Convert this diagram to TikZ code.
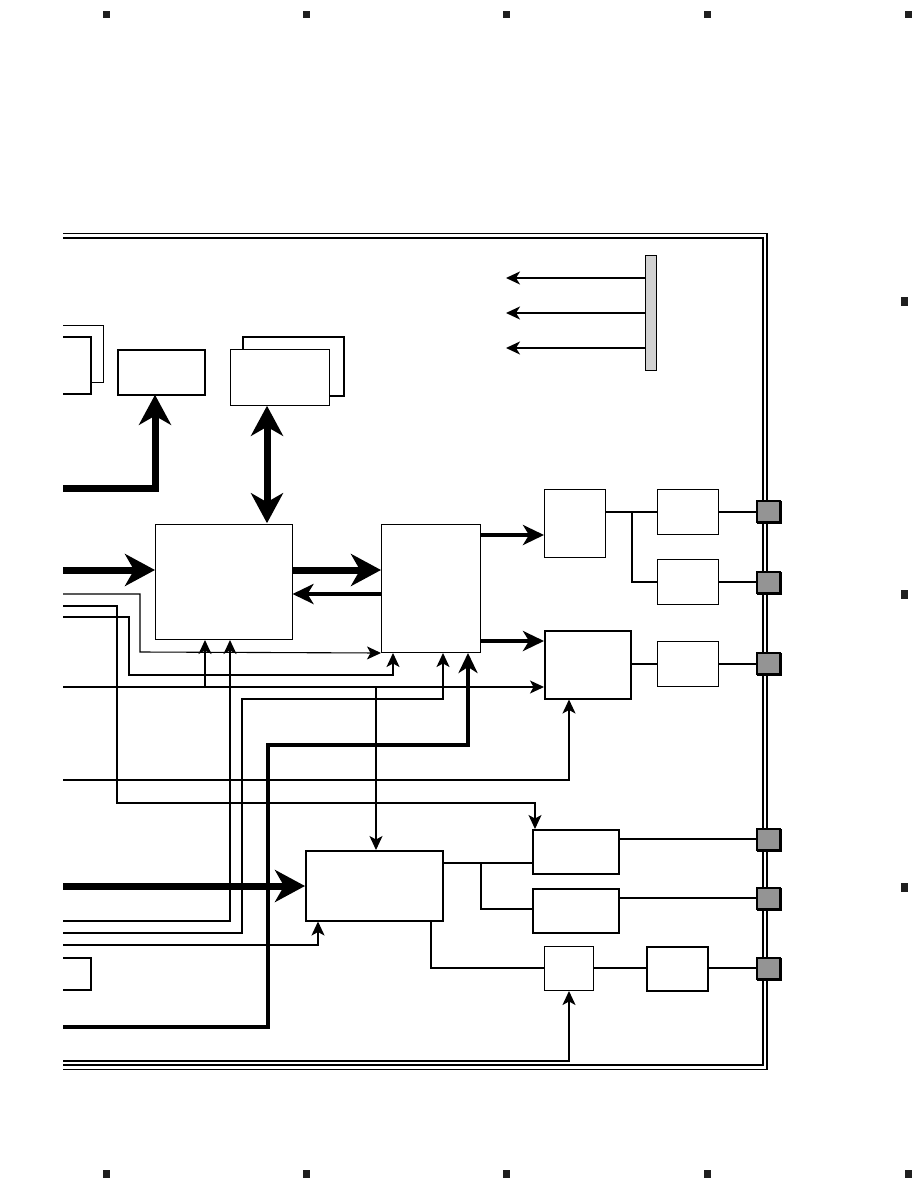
\documentclass[tikz,border=0pt]{standalone}
\usetikzlibrary{arrows.meta,calc}
\begin{document}
\begin{tikzpicture}[x=1pt,y=-1pt,
  box/.style={draw,line width=1.5pt,fill=white,inner sep=0pt,anchor=north west},
  tbox/.style={draw,line width=1pt,fill=white,inner sep=0pt,anchor=north west},
  conn/.style={draw,line width=1.6pt,fill=black!42,inner sep=0pt,anchor=north west,minimum width=23pt,minimum height=21pt},
  regmark/.style={fill=black!88,draw=none},
  bigarrow/.style={line width=7pt,-{Stealth[length=30pt,width=32pt,inset=9pt]}},
  bigline/.style={line width=7pt},
  medarrow/.style={line width=3.8pt,-{Stealth[length=21pt,width=20pt,inset=6pt]}},
  wire/.style={line width=1.8pt},
  thinwire/.style={line width=1.1pt},
  tip/.style={-{Stealth[length=14pt,width=13pt,inset=3.5pt]}},
]
\useasboundingbox (0,0) rectangle (918,1188);
\fill[white] (0,0) rectangle (918,1188);

% registration marks
\foreach \x in {103,303,503,704,905}{
  \fill[regmark] (\x,11) rectangle ++(7,7);
  \fill[regmark] (\x,1170) rectangle ++(7,8);
}
\foreach \y in {297,590,883}{
  \fill[regmark] (901,\y) rectangle ++(7,9);
}

% frame (double line, open at the left)
\draw[line width=1.5pt] (63,233.5) -- (767,233.5) -- (767,1069.5) -- (63,1069.5);
\draw[line width=1.5pt] (63,238) -- (763,238) -- (763,1065) -- (63,1065);

% top-left stacked boxes (cut at the left edge, so drawn open)
\coordinate (Aback) at (63,325);
\coordinate (A) at (63,337);
\fill[white] (Aback) rectangle (103,382);
\draw[line width=1pt] (Aback) -- (103,325) -- (103,382) -- (91,382);
\fill[white] (A) rectangle (91,394);
\draw[line width=1.5pt] (A) -- (91,337) -- (91,394) -- (63,394);
\node[box,minimum width=87pt,minimum height=45pt] (B) at (117,349) {};
\node[box,minimum width=101pt,minimum height=59pt] (Cback) at (242,336) {};
\node[tbox,minimum width=99pt,minimum height=56pt] (C) at (230,349) {};

% gray bar with three outputs
\node[draw,line width=1.3pt,fill=black!18,inner sep=0pt,anchor=north west,minimum width=11pt,minimum height=115pt] (bar) at (645,255) {};
\coordinate (o1) at (506,278);
\coordinate (o2) at (506,313);
\coordinate (o3) at (506,348);
\foreach \o in {o1,o2,o3}
  \draw[wire,-{Stealth[length=14pt,width=13pt,inset=4pt]}] (bar.west |- \o) -- (\o);

% main boxes
\node[tbox,minimum width=137pt,minimum height=115pt] (D) at (155,524) {};
\node[tbox,minimum width=99pt,minimum height=128pt] (E) at (381,524) {};
\node[tbox,minimum width=61pt,minimum height=68pt] (F1) at (544,489) {};
\node[box,minimum width=86pt,minimum height=68pt] (G) at (544,630) {};
\node[tbox,minimum width=61pt,minimum height=45pt] (K1) at (657,489) {};
\node[tbox,minimum width=61pt,minimum height=45pt] (K2) at (657,559) {};
\node[tbox,minimum width=61pt,minimum height=45pt] (K3) at (657,641) {};
\node[box,minimum width=137pt,minimum height=70pt] (H) at (305,850) {};
\node[box,minimum width=86pt,minimum height=44pt] (F) at (532,829) {};
\node[box,minimum width=86pt,minimum height=44pt] (F2) at (532,888) {};
\node[tbox,minimum width=49pt,minimum height=44pt] (J) at (544,946) {};
\node[box,minimum width=61pt,minimum height=44pt] (L) at (646,946) {};
\coordinate (M) at (63,958);
\draw[line width=1.5pt] (M) -- (91,958) -- (91,990) -- (63,990);

% connectors on the frame
\node[conn] (c1) at (757,501) {};
\node[conn] (c2) at (757,572) {};
\node[conn] (c3) at (757,653) {};
\node[conn] (c4) at (757,829) {};
\node[conn] (c5) at (757,888) {};
\node[conn] (c6) at (757,958) {};

% left-edge coordinates
\coordinate (inB) at (63,488);
\coordinate (inD) at (63,570);
\coordinate (l1) at (63,594);
\coordinate (l2) at (63,606);
\coordinate (l3) at (63,617);
\coordinate (l4) at (63,687);
\coordinate (l5) at (63,780);
\coordinate (inH) at (63,886);
\coordinate (l6) at (63,921);
\coordinate (l7) at (63,933);
\coordinate (l8) at (63,945);
\coordinate (l9) at (63,1027);
\coordinate (l10) at (63,1061);

% heavy buses
\draw[bigline,-{Stealth[length=30pt,width=32pt,inset=9pt]}] (inB) -- (155,488) -- (155,394.8);
\draw[line width=7pt,{Stealth[length=30pt,width=32pt,inset=9pt]}-{Stealth[length=30pt,width=32pt,inset=9pt]}] (267,405.8) -- (267,523.2);
\draw[bigarrow] (inD) -- (D.west |- inD);
\draw[bigarrow] (293,570) -- (E.west |- inD);
\draw[medarrow] (E.west |- 0,594) -- (292.5,594);
\draw[bigarrow] (inH) -- (H.west |- inH);

% E outputs
\draw[medarrow] (E.east |- 0,535) -- (F1.west |- 0,535);
\draw[medarrow] (E.east |- 0,641) -- (G.west |- 0,641);

% thin wires from the left
\draw[thinwire,tip] (l1) -- (140,594) -- (140,652) -- (E.south west);
\draw[thinwire,tip] (l2) -- (117,606) -- (117,803) -- (535,803) -- (F.north -| 535,0);
\draw[thinwire,tip] (l3) -- (129,617) -- (129,675) -- (393,675) -- (E.south -| 393,0);
\draw[thinwire,tip] (l4) -- (G.west |- l4);
\draw[thinwire,tip] (205,687) -- (D.south -| 205,0);
\draw[thinwire,tip] (376,687) -- (H.north -| 376,0);
\draw[thinwire,line width=1.4pt,tip] (l6) -- (230,921) -- (D.south -| 230,0);
\draw[thinwire,line width=1.4pt,tip] (l7) -- (242,933) -- (242,699) -- (443,699) -- (E.south -| 443,0);
\draw[line width=4.5pt,-{Stealth[length=20pt,width=19pt,inset=6pt]}] (l9) -- (268,1027) -- (268,745) -- (468,745) -- (E.south -| 468,0);
\draw[wire,tip] (l5) -- (569,780) -- (G.south -| 569,0);
\draw[wire,tip] (l8) -- (318,945) -- (H.south -| 318,0);
\draw[wire,tip] (l10) -- (569,1061) -- (J.south -| 569,0);

% right side links
\draw[wire] (F1.east |- 0,512) -- (K1.west |- 0,512);
\draw[wire] (632,512) -- (632,582) -- (K2.west |- 0,582);
\draw[wire] (G.east |- 0,664) -- (K3.west |- 0,664);
\draw[wire] (K1.east |- 0,512) -- (c1.west |- 0,512);
\draw[wire] (K2.east |- 0,582) -- (c2.west |- 0,582);
\draw[wire] (K3.east |- 0,664) -- (c3.west |- 0,664);

\draw[wire] (H.east |- 0,863) -- (F.west |- 0,863);
\draw[wire] (481,863) -- (481,909) -- (F2.west |- 0,909);
\draw[thinwire] (F.east |- 0,839) -- (c4.west |- 0,839);
\draw[wire] (F2.east |- 0,898) -- (c5.west |- 0,898);
\draw[wire] (H.south -| 431,0) -- (431,968) -- (J.west |- 0,968);
\draw[wire] (J.east |- 0,968) -- (L.west |- 0,968);
\draw[wire] (L.east |- 0,968) -- (c6.west |- 0,968);

% redraw connectors on top of the frame
\foreach \c/\y in {c1/501,c2/572,c3/653,c4/829,c5/888,c6/958}
  \draw[line width=1.6pt,fill=black!42] (757,\y) rectangle ++(23,21);
\end{tikzpicture}
\end{document}
